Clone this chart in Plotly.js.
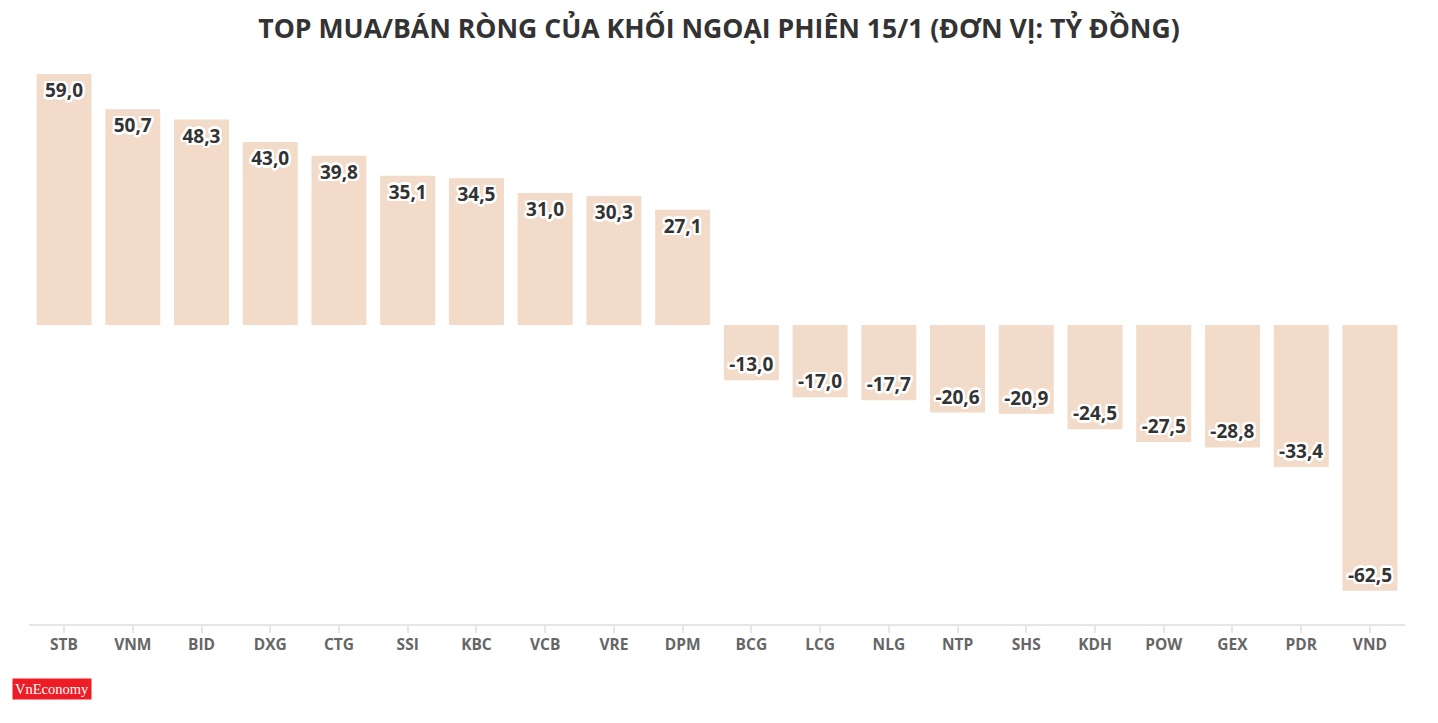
<!DOCTYPE html>
<html>
<head>
<meta charset="utf-8">
<script src="https://cdn.plot.ly/plotly-3.0.1.min.js"></script>
<style>
html,body{margin:0;padding:0;background:#fff;}
#chart{width:1438px;height:723px;}
</style>
</head>
<body>
<div id="chart"></div>
<script>
const tickers = ["STB","VNM","BID","DXG","CTG","SSI","KBC","VCB","VRE","DPM","BCG","LCG","NLG","NTP","SHS","KDH","POW","GEX","PDR","VND"];
const netValues = [59.0,50.7,48.3,43.0,39.8,35.1,34.5,31.0,30.3,27.1,-13.0,-17.0,-17.7,-20.6,-20.9,-24.5,-27.5,-28.8,-33.4,-62.5];
const labels = netValues.map(v => v.toFixed(1).replace('.', ','));

const outline = "2px 2px 0 #fff, -2px -2px 0 #fff, 2px -2px 0 #fff, -2px 2px 0 #fff, 0 2.5px 0 #fff, 0 -2.5px 0 #fff, 2.5px 0 0 #fff, -2.5px 0 0 #fff";

const trace = {
  type: "bar",
  x: tickers,
  y: netValues,
  text: labels,
  textposition: "inside",
  insidetextanchor: "end",
  textangle: 0,
  constraintext: "none",
  cliponaxis: false,
  textfont: {family: "Open Sans, Noto Sans, sans-serif", size: 19, color: "#333333", weight: 700, shadow: outline},
  marker: {color: "#f2dbc8", line: {width: 0}},
  width: 0.8,
  hoverinfo: "x+y"
};

const layout = {
  width: 1438,
  height: 723,
  margin: {l: 29, r: 33, t: 64, b: 99},
  paper_bgcolor: "#ffffff",
  plot_bgcolor: "#ffffff",
  showlegend: false,
  title: {
    text: "TOP MUA/BÁN RÒNG CỦA KHỐI NGOẠI PHIÊN 15/1 (ĐƠN VỊ: TỶ ĐỒNG)",
    x: 0.5, xanchor: "center", y: 0.961, yanchor: "middle",
    font: {family: "Open Sans, Noto Sans, sans-serif", size: 26.6, color: "#333333", weight: 700}
  },
  xaxis: {
    type: "category",
    range: [-0.51, 19.51],
    showline: true, linecolor: "#e6e6e6", linewidth: 2,
    ticks: "outside", ticklen: 7, tickcolor: "#e6e6e6", tickwidth: 2,
    ticklabelstandoff: -2,
    showgrid: false, zeroline: false,
    tickfont: {family: "Open Sans, Noto Sans, sans-serif", size: 15.5, color: "#666666", weight: 700},
    fixedrange: true
  },
  yaxis: {
    range: [-70.3, 61.35],
    showticklabels: false, showgrid: false, zeroline: false, showline: false,
    fixedrange: true
  },
  annotations: [{
    xref: "paper", yref: "paper",
    x: -0.0125, y: -0.097, xanchor: "left", yanchor: "top",
    text: "VnEconomy",
    showarrow: false,
    bgcolor: "#ee1c25",
    font: {family: "Liberation Serif, DejaVu Serif, serif", size: 14.5, color: "#ffffff"},
    borderpad: 2
  }]
};

Plotly.newPlot("chart", [trace], layout, {displayModeBar: false, staticPlot: true});
</script>
</body>
</html>
